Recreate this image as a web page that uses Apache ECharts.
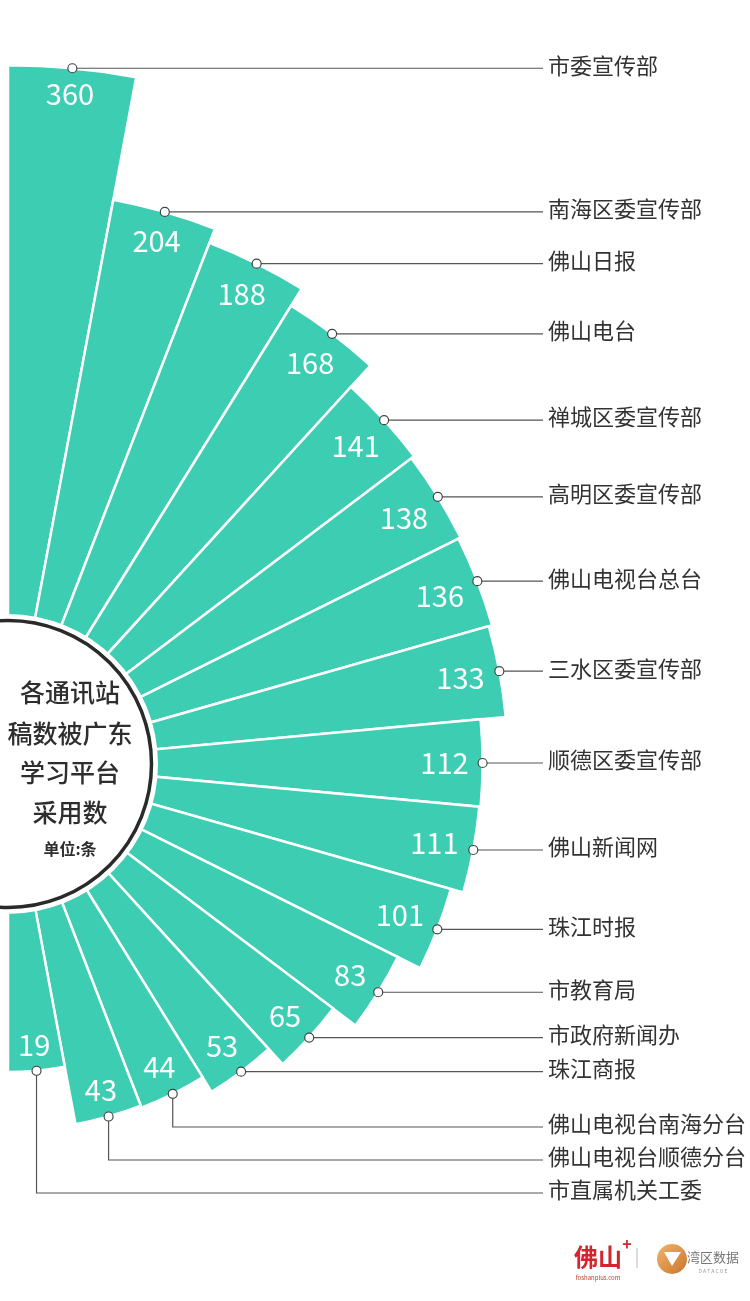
<!DOCTYPE html>
<html><head><meta charset="utf-8">
<script src="https://cdn.jsdelivr.net/npm/echarts@6/dist/echarts.min.js"></script>
<style>html,body{margin:0;padding:0;background:#fff}#c{width:750px;height:1301px}</style>
</head><body><div id="c"></div>
<script>
// ---- data ----
const categories = ['市委宣传部','南海区委宣传部','佛山日报','佛山电台','禅城区委宣传部','高明区委宣传部','佛山电视台总台','三水区委宣传部','顺德区委宣传部','佛山新闻网','珠江时报','市教育局','市政府新闻办','珠江商报','佛山电视台南海分台','佛山电视台顺德分台','市直属机关工委'];
const values = [360,204,188,168,141,138,136,133,112,111,101,83,65,53,44,43,19];
const titleLines = ['各通讯站','稿数被广东','学习平台','采用数'];
const unitText = '单位:条';

// radial length of each petal encodes the square root of the value (rose / area style)
const radial = values.map(v => Math.sqrt(v));

// ---- layout / style constants ----
const CX = 8, CY = 763;
const TEAL = '#3ccdb3';
const LABEL_X = 548, LINE_END = 543;
const PUSHED = 3, LABEL_BOTTOM = 1193, LABEL_STEP = 33;
const VALUE_FONT_SIZE = 29;
const FONT = '"Noto Sans CJK SC", "Noto Sans", sans-serif';

const chart = echarts.init(document.getElementById('c'), null, {renderer: 'canvas', width: 750, height: 1301});
chart.setOption({
  backgroundColor: '#fff',
  animation: false,
  polar: {center: [CX, CY], radius: [140, 725]},
  angleAxis: {
    type: 'category', data: categories, startAngle: 90, endAngle: -90, clockwise: true,
    boundaryGap: true,
    axisLine: {show: false}, axisTick: {show: false}, axisLabel: {show: false}, splitLine: {show: false}
  },
  radiusAxis: {
    type: 'value', min: -2, max: 20, startValue: -2,
    axisLine: {show: false}, axisTick: {show: false}, axisLabel: {show: false}, splitLine: {show: false}
  },
  series: [
    {
      type: 'bar', coordinateSystem: 'polar', data: radial, barCategoryGap: '0%', silent: true,
      itemStyle: {color: TEAL, borderColor: '#fff', borderWidth: 2.5}, z: 2
    },
    {
      type: 'scatter', coordinateSystem: 'polar', data: radial.map((s, i) => [s, i]),
      symbol: 'circle', symbolSize: 9, silent: true,
      itemStyle: {color: '#fff', borderColor: '#444', borderWidth: 1.2, opacity: 1}, z: 20
    }
  ]
});

const ctx = document.createElement('canvas').getContext('2d');
ctx.font = VALUE_FONT_SIZE + 'px ' + FONT;

const g = [];
// center disc
g.push({type: 'circle', shape: {cx: CX, cy: CY + 1, r: 150}, style: {fill: '#fff'}, z: 10});
g.push({type: 'circle', shape: {cx: CX, cy: CY + 1, r: 143.5}, style: {fill: null, stroke: '#2a2a2a', lineWidth: 3.5}, z: 11});
const titleY = [692, 733, 772, 812];
titleLines.forEach((t, k) => {
  g.push({type: 'text', x: 70, y: titleY[k], z: 12, style: {text: t, fill: '#2e2e2e', font: '500 25px ' + FONT, align: 'center', verticalAlign: 'middle', textAlign: 'center', textVerticalAlign: 'middle'}});
});
g.push({type: 'text', x: 70, y: 849, z: 12, style: {text: unitText, fill: '#2e2e2e', font: 'bold 16px ' + FONT, align: 'center', verticalAlign: 'middle', textAlign: 'center', textVerticalAlign: 'middle'}});

const n = categories.length;
categories.forEach((name, i) => {
  const p = chart.convertToPixel({polarIndex: 0}, [radial[i], i]);
  const px = p[0], py = p[1];
  // leader line + category label
  const pushed = i >= n - PUSHED;
  const ly = pushed ? LABEL_BOTTOM - (n - 1 - i) * LABEL_STEP : py;
  const pts = pushed ? [[px, py + 4.5], [px, ly], [LINE_END, ly]] : [[px + 4.5, py], [LINE_END, py]];
  g.push({type: 'polyline', shape: {points: pts}, style: {stroke: '#555', lineWidth: 1.2, fill: null}, z: 15});
  g.push({type: 'text', x: LABEL_X, y: ly - 3, z: 15, style: {text: name, fill: '#333', font: '22px ' + FONT, align: 'left', verticalAlign: 'middle', textAlign: 'left', textVerticalAlign: 'middle'}});
  // value label inside the petal end
  const dx = px - CX, dy = py - CY, len = Math.hypot(dx, dy);
  const ux = dx / len, uy = dy / len;
  const txt = String(values[i]);
  const w = ctx.measureText(txt).width, h = 20;
  const off = 14 + Math.abs(ux) * w / 2 + Math.abs(uy) * h / 2;
  g.push({type: 'text', x: px - ux * off, y: py - uy * off, z: 14, style: {text: txt, fill: '#fff', font: VALUE_FONT_SIZE + 'px ' + FONT, align: 'center', verticalAlign: 'middle', textAlign: 'center', textVerticalAlign: 'middle'}});
});

// footer logos
g.push({type: 'text', x: 598, y: 1257, z: 5, style: {text: '佛山', fill: '#d0262c', font: 'bold 24px ' + FONT, align: 'center', verticalAlign: 'middle', textAlign: 'center', textVerticalAlign: 'middle'}});
g.push({type: 'text', x: 627, y: 1244, z: 5, style: {text: '+', fill: '#d0262c', font: 'bold 16px ' + FONT, align: 'center', verticalAlign: 'middle', textAlign: 'center', textVerticalAlign: 'middle'}});
g.push({type: 'text', x: 598, y: 1278, z: 5, style: {text: 'foshanplus.com', fill: '#c0392b', font: '6px ' + FONT, align: 'center', verticalAlign: 'middle', textAlign: 'center', textVerticalAlign: 'middle'}});
g.push({type: 'line', shape: {x1: 637, y1: 1248, x2: 637, y2: 1268}, style: {stroke: '#bbb', lineWidth: 1}, z: 5});
g.push({type: 'circle', shape: {cx: 672, cy: 1259, r: 15}, z: 5, style: {fill: {type: 'linear', x: 0, y: 0, x2: 1, y2: 1, colorStops: [{offset: 0, color: '#f3b36a'}, {offset: 1, color: '#c8762e'}]}}});
g.push({type: 'polygon', shape: {points: [[664, 1252], [681, 1252], [672, 1266]]}, style: {fill: '#fff'}, z: 6});
g.push({type: 'text', x: 713, y: 1257, z: 5, style: {text: '湾区数据', fill: '#777', font: '13px ' + FONT, align: 'center', verticalAlign: 'middle', textAlign: 'center', textVerticalAlign: 'middle'}});
g.push({type: 'text', x: 713, y: 1271, z: 5, style: {text: 'D A T A C O E', fill: '#999', font: '5px ' + FONT, align: 'center', verticalAlign: 'middle', textAlign: 'center', textVerticalAlign: 'middle'}});

chart.setOption({graphic: {elements: g}});
</script>
</body></html>
